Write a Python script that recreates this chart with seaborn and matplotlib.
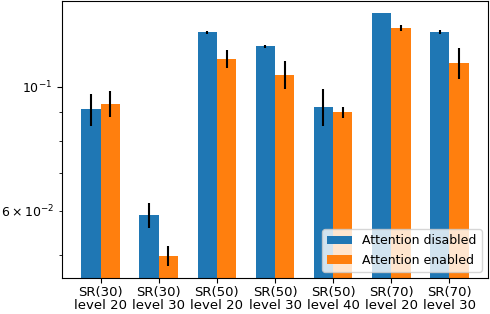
import numpy as np
import pandas as pd
import matplotlib
matplotlib.use("Agg")
import matplotlib.pyplot as plt
import seaborn as sns

# values
categories = ["SR(30)\nlevel 20", "SR(30)\nlevel 30", "SR(50)\nlevel 20", "SR(50)\nlevel 30",
              "SR(50)\nlevel 40", "SR(70)\nlevel 20", "SR(70)\nlevel 30"]
series = ["Attention disabled", "Attention enabled"]
disabled = [0.0912, 0.0590, 0.1253, 0.1182, 0.0921, 0.1354, 0.1253]
enabled = [0.0932, 0.0498, 0.1122, 0.1052, 0.0901, 0.1274, 0.1102]
disabled_err = [0.006, 0.003, 0.0008, 0.0008, 0.007, 0.0, 0.0012]
enabled_err = [0.005, 0.002, 0.004, 0.006, 0.002, 0.0015, 0.007]

plt.rcParams["font.size"] = 9

df = pd.DataFrame({
    "case": categories * 2,
    "mode": [series[0]] * len(categories) + [series[1]] * len(categories),
    "value": disabled + enabled,
})

fig, ax = plt.subplots(figsize=(4.9, 3.14), dpi=100)
fig.subplots_adjust(left=0.1265, right=0.996, top=0.997, bottom=0.115)

sns.barplot(data=df, x="case", y="value", hue="mode", order=categories, hue_order=series,
            palette=["#1f77b4", "#ff7f0e"], saturation=1, width=2 / 3,
            errorbar=None, ax=ax)
ax.set_yscale("log")

# error bars on top of the seaborn bars
for cont, err in zip(ax.containers, [disabled_err, enabled_err]):
    xs = [p.get_x() + p.get_width() / 2 for p in cont.patches]
    ys = [p.get_height() for p in cont.patches]
    ax.errorbar(xs, ys, yerr=err, fmt="none", ecolor="black", elinewidth=1.5, capsize=0)

ax.set_ylim(0.0455, 0.1425)
ax.set_xlim(-2 / 3, len(categories) - 1 + 2 / 3)
ax.set_xlabel("")
ax.set_ylabel("")
ax.tick_params(axis="x", pad=2.5, labelsize=9.5)
for t in ax.get_xticklabels():
    t.set_linespacing(1.0)

handles, labels = ax.get_legend_handles_labels()
ax.legend(handles, labels, loc="lower right")

plt.savefig("out.png", dpi=100)
plt.close()
